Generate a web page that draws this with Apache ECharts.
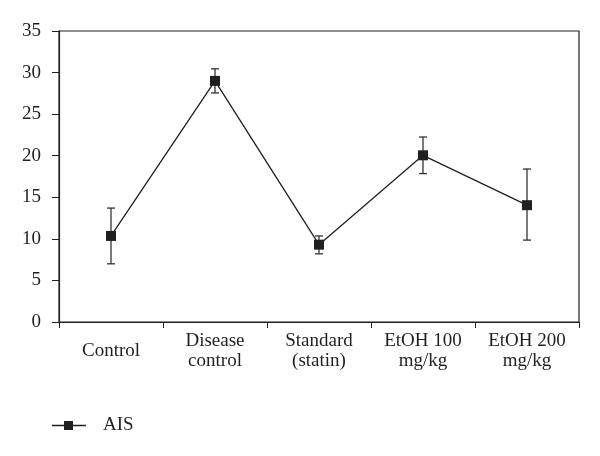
<!DOCTYPE html>
<html><head><meta charset="utf-8">
<script src="https://cdn.jsdelivr.net/npm/echarts@6/dist/echarts.min.js"></script>
<style>html,body{margin:0;padding:0;background:#fff}#c{width:600px;height:456px}</style>
</head><body><div id="c"></div>
<script>
var categories = ['Control', 'Disease\ncontrol', 'Standard\n(statin)', 'EtOH 100\nmg/kg', 'EtOH 200\nmg/kg'];
var aisValues = [10.35, 29.0, 9.3, 20.05, 14.05];
var errLow = [7.0, 27.55, 8.2, 17.85, 9.85];
var errHigh = [13.7, 30.45, 10.35, 22.25, 18.4];
var yTicks = [0, 5, 10, 15, 20, 25, 30, 35];

var ink = '#231f20';
var font = 'Liberation Serif';
var chart = echarts.init(document.getElementById('c'));
var errData = categories.map(function (c, i) { return [i, errLow[i], errHigh[i]]; });
chart.setOption({
  animation: false,
  grid: { left: 59, right: 21, top: 31, bottom: 134, show: true, borderColor: ink, borderWidth: 1.2 },
  legend: {
    data: [{ name: 'AIS', icon: 'path://M0,4.3L12,4.3L12,0.5L21,0.5L21,4.3L34,4.3L34,5.7L21,5.7L21,9.5L12,9.5L12,5.7L0,5.7Z' }],
    left: 52, top: 416, padding: 0, itemWidth: 34, itemHeight: 10, itemGap: 10,
    textStyle: { fontFamily: font, fontSize: 19, color: ink, padding: [0, 0, 0, 12] }
  },
  xAxis: {
    type: 'category', data: categories, boundaryGap: true,
    axisLine: { lineStyle: { color: ink, width: 1.2 } },
    axisTick: { show: true, length: 6, inside: false, lineStyle: { color: ink }, alignWithLabel: false },
    axisLabel: { fontFamily: font, fontSize: 19, color: ink, margin: 29, lineHeight: 20, interval: 0, verticalAlign: 'middle' }
  },
  yAxis: {
    type: 'value', min: 0, max: 35, interval: 5,
    axisLine: { show: true, lineStyle: { color: ink, width: 1.2 } },
    axisTick: { show: true, length: 7, lineStyle: { color: ink } },
    splitLine: { show: false },
    axisLabel: { fontFamily: font, fontSize: 19, color: ink, margin: 18,
      formatter: function (v) { return yTicks.indexOf(v) >= 0 ? String(v) : ''; } }
  },
  series: [
    {
      name: 'AIS', type: 'line', data: aisValues,
      symbol: 'rect', symbolSize: 10,
      lineStyle: { color: ink, width: 1.3 },
      itemStyle: { color: ink },
      z: 3
    },
    {
      type: 'custom', name: 'err', data: errData, z: 2,
      renderItem: function (params, api) {
        var x = api.value(0);
        var lo = api.coord([x, api.value(1)]);
        var hi = api.coord([x, api.value(2)]);
        var w = 4;
        var st = { stroke: '#333', lineWidth: 1.3 };
        return { type: 'group', children: [
          { type: 'line', shape: { x1: lo[0], y1: lo[1], x2: hi[0], y2: hi[1] }, style: st },
          { type: 'line', shape: { x1: lo[0] - w, y1: lo[1], x2: lo[0] + w, y2: lo[1] }, style: st },
          { type: 'line', shape: { x1: hi[0] - w, y1: hi[1], x2: hi[0] + w, y2: hi[1] }, style: st }
        ]};
      }
    }
  ]
});
</script></body></html>
